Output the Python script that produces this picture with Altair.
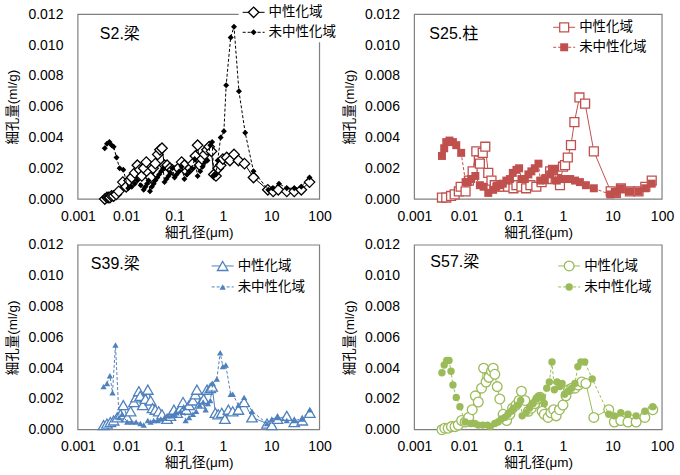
import altair as alt
import pandas as pd

FONT = "Arial, 'Liberation Sans', 'Noto Sans CJK JP', sans-serif"

X_TICKS = [0.001, 0.01, 0.1, 1, 10, 100]
Y_TICKS = [0.0, 0.002, 0.004, 0.006, 0.008, 0.010, 0.012]
LABEL_N = "中性化域"
LABEL_U = "未中性化域"
X_TITLE = "細孔径(μm)"
Y_TITLE = "細孔量(ml/g)"
PANEL_TITLES = ["S2.梁", "S25.柱", "S39.梁", "S57.梁"]

# ---- S2.梁 (black) ----
S2_N = [(0.0036,0.0000),(0.0040,0.0001),(0.0043,0.0001),(0.0046,0.0001),(0.0050,0.0002),(0.0055,0.0002),
        (0.0062,0.0003),(0.0070,0.0005),(0.0085,0.0011),(0.0100,0.0008),(0.0115,0.0012),(0.013,0.0014),
        (0.015,0.0017),(0.017,0.0022),(0.019,0.0019),(0.021,0.0015),(0.023,0.0020),(0.026,0.0024),
        (0.029,0.0017),(0.032,0.0014),(0.036,0.0020),(0.040,0.0023),(0.045,0.0029),(0.050,0.0032),
        (0.055,0.0033),(0.062,0.0022),(0.070,0.0022),(0.080,0.0020),(0.090,0.0019),(0.10,0.0018),
        (0.12,0.0020),(0.14,0.0024),(0.16,0.0022),(0.18,0.0018),(0.21,0.0020),(0.24,0.0023),
        (0.27,0.0028),(0.30,0.0035),(0.33,0.0022),(0.37,0.0026),(0.42,0.0029),(0.47,0.0032),
        (0.52,0.0034),(0.58,0.0031),(0.65,0.0016),(0.72,0.0015),(0.80,0.0020),(0.90,0.0022),
        (1.0,0.0026),(1.2,0.0027),(1.4,0.0025),(1.7,0.0029),(2.1,0.0025),(2.8,0.0023),(4.3,0.0014),
        (8.5,0.0006),(11,0.0005),(14,0.0006),(21,0.0005),(30,0.0005),(42,0.0006),(62,0.0011)]
S2_U = [(0.0036,0.0033),(0.0040,0.0036),(0.0045,0.0037),(0.0050,0.0035),(0.0055,0.0034),(0.0063,0.0027),
        (0.0073,0.0020),(0.0087,0.0019),(0.011,0.0007),(0.013,0.0008),(0.015,0.0010),(0.017,0.0012),
        (0.020,0.0009),(0.023,0.0006),(0.025,0.0008),(0.027,0.0010),(0.029,0.0012),(0.031,0.0005),
        (0.034,0.0008),(0.037,0.0010),(0.040,0.0012),(0.044,0.0014),(0.048,0.0016),(0.053,0.0018),
        (0.058,0.0020),(0.062,0.0011),(0.068,0.0013),(0.075,0.0015),(0.082,0.0017),(0.090,0.0020),
        (0.10,0.0014),(0.11,0.0016),(0.125,0.0018),(0.14,0.0021),(0.16,0.0013),(0.18,0.0016),
        (0.20,0.0018),(0.23,0.0020),(0.26,0.0026),(0.30,0.0015),(0.34,0.0018),(0.38,0.0021),
        (0.43,0.0024),(0.48,0.0025),(0.55,0.0035),(0.60,0.0037),(0.65,0.0015),(0.72,0.0016),
        (0.78,0.0025),(0.90,0.0040),(1.05,0.0044),(1.17,0.0074),(1.45,0.0105),(1.7,0.0112),
        (2.15,0.0070),(2.9,0.0043),(4.3,0.0018),(8.7,0.0006),(10.6,0.0007),(14.5,0.0010),
        (21,0.0007),(30,0.0007),(42,0.0008),(62,0.0014)]

# ---- S25.柱 (red) ----
S25_N = [(0.0036,0.0001),(0.0044,0.0001),(0.0055,0.0002),(0.0065,0.0003),(0.0079,0.0005),(0.0086,0.0008),
         (0.0108,0.0005),(0.0126,0.0012),(0.015,0.0018),(0.0178,0.0031),(0.020,0.0025),(0.021,0.0023),
         (0.024,0.0030),(0.027,0.0034),(0.031,0.0017),(0.036,0.0012),(0.042,0.0009),(0.049,0.0008),
         (0.061,0.0008),(0.078,0.0008),(0.10,0.0007),(0.115,0.0009),(0.145,0.0008),(0.18,0.0007),
         (0.22,0.0009),(0.29,0.0008),(0.37,0.0011),(0.47,0.0013),(0.55,0.0018),(0.63,0.0019),
         (0.75,0.0013),(0.87,0.0009),(1.0,0.0021),(1.1,0.0022),(1.25,0.0027),(1.45,0.0035),
         (1.7,0.0050),(2.15,0.0066),(2.8,0.0062),(4.2,0.0031),(9.2,0.0005),(11.7,0.0004),
         (14.8,0.0007),(22.5,0.0005),(33.5,0.0005),(46,0.0008),(62,0.0012)]
S25_U = [(0.0036,0.0028),(0.0040,0.0033),(0.0044,0.0037),(0.0051,0.0038),(0.0060,0.0037),(0.0070,0.0035),
         (0.0088,0.0030),(0.0108,0.0011),(0.012,0.0011),(0.014,0.0013),(0.017,0.0015),(0.021,0.0009),
         (0.025,0.0008),(0.031,0.0004),(0.039,0.0006),(0.045,0.0008),(0.053,0.0009),(0.061,0.0010),
         (0.072,0.0012),(0.085,0.0013),(0.097,0.0017),(0.115,0.0019),(0.13,0.0020),(0.145,0.0013),
         (0.17,0.0013),(0.20,0.0016),(0.23,0.0018),(0.27,0.0020),(0.32,0.0023),(0.35,0.0012),
         (0.43,0.0013),(0.55,0.0016),(0.63,0.0019),(0.75,0.0012),(0.90,0.0013),(1.1,0.0013),
         (1.4,0.0013),(1.75,0.0012),(2.2,0.0011),(2.9,0.0009),(4.2,0.0007),(9.0,0.0003),
         (11.7,0.0004),(14.8,0.0007),(22.5,0.0005),(33.5,0.0005),(46,0.0007),(62,0.0010)]

# ---- S39.梁 (blue) ----
S39_N = [(0.0034,0.0003),(0.0040,0.0004),(0.0047,0.0005),(0.0055,0.0006),(0.0065,0.0008),(0.0076,0.0010),
         (0.0087,0.0016),(0.0105,0.0008),(0.0123,0.0012),(0.0144,0.0018),(0.016,0.0021),(0.0183,0.0025),
         (0.0195,0.0022),(0.022,0.0016),(0.025,0.0020),(0.028,0.0026),(0.032,0.0019),(0.035,0.0014),
         (0.040,0.0013),(0.047,0.0012),(0.055,0.0010),(0.070,0.0007),(0.082,0.0009),(0.097,0.0013),
         (0.113,0.0011),(0.133,0.0014),(0.15,0.0018),(0.175,0.0013),(0.20,0.0016),(0.24,0.0019),
         (0.27,0.0023),(0.29,0.0026),(0.34,0.0017),(0.40,0.0020),(0.47,0.0026),(0.55,0.0027),
         (0.60,0.0028),(0.70,0.0011),(0.80,0.0010),(0.95,0.0011),(1.1,0.0007),(1.3,0.0013),
         (1.6,0.0012),(2.1,0.0013),(2.75,0.0018),(4.0,0.0008),(8.2,0.0004),(10.3,0.0003),
         (13.5,0.0007),(21,0.0009),(30,0.0005),(44,0.0006),(63,0.0011)]
S39_U = [(0.0034,0.0028),(0.0040,0.0030),(0.0046,0.0035),(0.0052,0.0024),(0.0060,0.0055),(0.0071,0.0008),
         (0.0082,0.0010),(0.0105,0.0005),(0.013,0.0005),(0.016,0.0005),(0.0197,0.0004),(0.023,0.0003),
         (0.028,0.0006),(0.032,0.0005),(0.037,0.0006),(0.045,0.0006),(0.052,0.0007),(0.062,0.0008),
         (0.072,0.0009),(0.085,0.0009),(0.10,0.0010),(0.11,0.0011),(0.133,0.0012),(0.155,0.0015),
         (0.17,0.0006),(0.20,0.0008),(0.24,0.0010),(0.28,0.0012),(0.33,0.0016),(0.39,0.0018),
         (0.44,0.0013),(0.49,0.0017),(0.55,0.0019),(0.62,0.0030),(0.75,0.0033),(0.88,0.0050),
         (1.0,0.0041),(1.15,0.0042),(1.45,0.0023),(1.6,0.0023),(2.1,0.0016),(2.75,0.0021),
         (4.0,0.0012),(8.2,0.0004),(10.3,0.0007),(13.5,0.0008),(21,0.0006),(30,0.0006),
         (44,0.0007),(63,0.0013)]

# ---- S57.梁 (green) ----
S57_N = [(0.0036,0.0000),(0.0041,0.0001),(0.0048,0.0001),(0.0056,0.0002),(0.0066,0.0002),(0.0077,0.0003),
         (0.0090,0.0006),(0.0106,0.0005),(0.0125,0.0008),(0.0147,0.0013),(0.017,0.0022),(0.0195,0.0018),
         (0.0227,0.0027),(0.025,0.0040),(0.028,0.0031),(0.032,0.0034),(0.036,0.0038),(0.039,0.0040),
         (0.042,0.0036),(0.047,0.0028),(0.053,0.0020),(0.062,0.0010),(0.073,0.0006),(0.085,0.0010),
         (0.096,0.0014),(0.113,0.0016),(0.13,0.0019),(0.145,0.0025),(0.17,0.0019),(0.20,0.0012),
         (0.23,0.0014),(0.27,0.0017),(0.31,0.0020),(0.35,0.0021),(0.38,0.0012),(0.42,0.0010),
         (0.50,0.0008),(0.57,0.0011),(0.65,0.0013),(0.73,0.0009),(0.85,0.0013),(1.0,0.0016),
         (1.15,0.0022),(1.3,0.0026),(1.5,0.0027),(1.75,0.0027),(2.05,0.0029),(2.4,0.0031),
         (2.9,0.0030),(4.2,0.0008),(8.4,0.0013),(10.9,0.0005),(14.7,0.0006),(20.5,0.0005),
         (30,0.0005),(45,0.0008),(65,0.0013)]
S57_U = [(0.0036,0.0037),(0.0040,0.0042),(0.0045,0.0045),(0.0050,0.0045),(0.0055,0.0038),(0.0060,0.0029),
         (0.0070,0.0021),(0.0083,0.0015),(0.0106,0.0005),(0.0138,0.0004),(0.0166,0.0004),(0.0195,0.0003),
         (0.024,0.0003),(0.030,0.0003),(0.034,0.0002),(0.042,0.0004),(0.049,0.0005),(0.057,0.0007),
         (0.067,0.0008),(0.078,0.0010),(0.090,0.0012),(0.10,0.0014),(0.12,0.0016),(0.14,0.0019),
         (0.15,0.0009),(0.18,0.0011),(0.21,0.0014),(0.25,0.0017),(0.29,0.0020),(0.32,0.0022),
         (0.37,0.0021),(0.42,0.0017),(0.47,0.0027),(0.53,0.0031),(0.60,0.0044),(0.67,0.0026),
         (0.76,0.0031),(0.86,0.0028),(0.96,0.0030),(1.08,0.0023),(1.27,0.0025),(1.5,0.0027),
         (1.74,0.0030),(2.0,0.0041),(2.3,0.0044),(2.75,0.0044),(3.9,0.0033),(8.4,0.0010),
         (10.9,0.0009),(14.7,0.0011),(20.5,0.0010),(30,0.0009),(45,0.0012),(65,0.0015)]

H = 185


def to_df(pts):
    return pd.DataFrame({"d": [p[0] for p in pts], "v": [p[1] for p in pts],
                         "i": list(range(len(pts)))})


def panel(n_pts, u_pts, color, shape, open_size, fill_size, title, title_xy, leg_x, leg_y, W, cover=False):
    xenc = alt.X("d:Q", scale=alt.Scale(type="log", domain=[0.001, 100], nice=False),
                 axis=alt.Axis(values=X_TICKS, format="~g", title=X_TITLE))
    yenc = alt.Y("v:Q", scale=alt.Scale(domain=[0, 0.012], nice=False),
                 axis=alt.Axis(values=Y_TICKS, format=".3f", title=Y_TITLE))
    dn, du = to_df(n_pts), to_df(u_pts)
    one = pd.DataFrame({"k": [0]})

    layers = []
    layers.append(alt.Chart(one).mark_rect(fillOpacity=0, stroke="#808080", strokeWidth=1.2).encode(
        x=alt.value(0), x2=alt.value(W), y=alt.value(0), y2=alt.value(H)))
    if cover:
        layers.append(alt.Chart(one).mark_rect(fill="white", strokeWidth=0).encode(
            x=alt.value(leg_x - 4), x2=alt.value(W + 30), y=alt.value(-9), y2=alt.value(leg_y[1] + 10)))

    layers.append(alt.Chart(dn).mark_line(color=color, strokeWidth=1).encode(
        x=xenc, y=yenc, order="i:Q"))
    layers.append(alt.Chart(dn).mark_point(shape=shape, size=open_size, filled=True, fill="white",
                                           stroke=color, strokeWidth=1.3, opacity=1).encode(x=xenc, y=yenc))
    layers.append(alt.Chart(du).mark_line(color=color, strokeWidth=1, strokeDash=[3, 2]).encode(
        x=xenc, y=yenc, order="i:Q"))
    layers.append(alt.Chart(du).mark_point(shape=shape, size=fill_size, filled=True, color=color,
                                           opacity=1).encode(x=xenc, y=yenc))

    # legend
    for k, (lab, dash) in enumerate([(LABEL_N, False), (LABEL_U, True)]):
        ly = leg_y[k]
        rule_kw = dict(color=color, strokeWidth=1)
        if dash:
            rule_kw["strokeDash"] = [3, 2]
        layers.append(alt.Chart(one).mark_rule(**rule_kw).encode(
            x=alt.value(leg_x), x2=alt.value(leg_x + 22), y=alt.value(ly)))
        if dash:
            layers.append(alt.Chart(one).mark_point(shape=shape, size=fill_size, filled=True, color=color,
                                                    opacity=1).encode(x=alt.value(leg_x + 11), y=alt.value(ly)))
        else:
            layers.append(alt.Chart(one).mark_point(shape=shape, size=open_size, filled=True, fill="white",
                                                    stroke=color, strokeWidth=1.3, opacity=1).encode(
                x=alt.value(leg_x + 11), y=alt.value(ly)))
        layers.append(alt.Chart(one).mark_text(align="left", baseline="middle", font=FONT, fontSize=13.5,
                                               color="black").encode(
            x=alt.value(leg_x + 26), y=alt.value(ly), text=alt.value(lab)))

    layers.append(alt.Chart(one).mark_text(align="left", baseline="middle", font=FONT, fontSize=16,
                                           color="black").encode(
        x=alt.value(title_xy[0]), y=alt.value(title_xy[1]), text=alt.value(title)))

    return alt.layer(*layers).properties(width=W, height=H)


BLACK, RED, BLUE, GREEN = "#000000", "#C0504D", "#4F81BD", "#9BBB59"
W_LEFT, W_RIGHT = 242, 248

p1 = panel(S2_N, S2_U, BLACK, "diamond", 110, 36, PANEL_TITLES[0], (22, 20), 165, (-2, 18), W_LEFT, cover=True)
p2 = panel(S25_N, S25_U, RED, "square", 80, 64, PANEL_TITLES[1], (15, 20), 139, (13, 33), W_RIGHT)
p3 = panel(S39_N, S39_U, BLUE, "triangle-up", 110, 40, PANEL_TITLES[2], (13, 19), 134, (21, 42), W_LEFT)
p4 = panel(S57_N, S57_U, GREEN, "circle", 95, 55, PANEL_TITLES[3], (16, 17), 144, (21, 42), W_RIGHT)

chart = alt.concat(p1, p2, p3, p4, columns=2, spacing={"row": 46, "column": 95}, bounds="flush").properties(
    padding={"left": 5, "top": 3, "right": 5, "bottom": 5}
).configure_view(stroke="transparent").configure_axis(
    grid=False, domain=False, ticks=False, labelFlush=False, labelOverlap=False,
    labelFont=FONT, titleFont=FONT, labelFontSize=14, titleFontSize=13.5,
    labelColor="black", titleColor="black", titleFontWeight="normal"
).configure_axisX(labelPadding=10, titlePadding=2).configure_axisY(labelPadding=15, titlePadding=8)

chart.save("out.html", embed_options={"renderer": "svg", "actions": False})
